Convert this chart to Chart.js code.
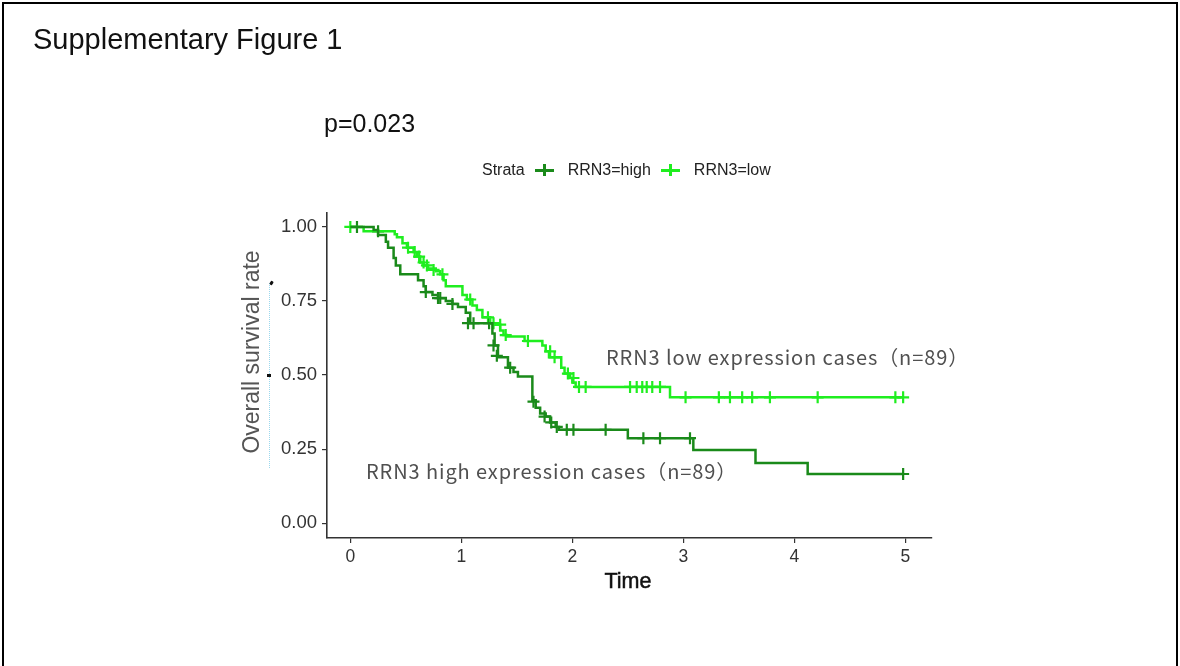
<!DOCTYPE html>
<html>
<head>
<meta charset="utf-8">
<script src="https://cdn.jsdelivr.net/npm/chart.js@4.4.1/dist/chart.umd.min.js"></script>
<style>
  html, body { margin: 0; padding: 0; background: #fff; }
  body { width: 1180px; height: 666px; position: relative; overflow: hidden; font-family: "Liberation Sans", Arial, sans-serif; }
  #frame { position: absolute; left: 2px; top: 2px; width: 1176px; height: 700px; border: 2px solid #000; box-sizing: border-box; }
  #chartBox { position: absolute; left: 0; top: 0; width: 1180px; height: 666px; }
  .txt { position: absolute; white-space: nowrap; }
  #title { left: 33px; top: 22px; font-size: 29px; line-height: 34px; color: #111; }
  #pval { left: 324px; top: 108px; font-size: 25px; line-height: 30px; color: #111; }
  #legend { left: 482px; top: 160px; font-size: 16px; line-height: 20px; color: #222; display: flex; align-items: center; }
  .key { position: relative; width: 19px; height: 14px; margin: 0 14px 0 10px; }
  .key .h { position: absolute; left: 0; top: 6px; width: 19px; height: 2.5px; }
  .key .v { position: absolute; left: 8.5px; top: 1px; width: 2.5px; height: 12px; }
  #ytitle { left: 251px; top: 352px; font-size: 23px; color: #555; transform: translate(-50%, -50%) rotate(-90deg); }
  #xtitle { left: 628px; top: 569px; font-size: 21.5px; color: #111; -webkit-text-stroke: 0.5px #111; transform: translateX(-50%); }
  .note { font-family: "Noto Sans CJK JP", "Noto Sans", sans-serif; font-size: 20px; letter-spacing: 0.9px; color: #505050; }
  #noteLow { left: 606px; top: 342px; }
  #noteHigh { left: 366px; top: 456px; }
  #dots { position: absolute; left: 269px; top: 283px; height: 185px; border-left: 1px dotted #9ad8ee; }
  #tick1 { position: absolute; left: 270px; top: 281px; width: 3px; height: 4px; background: #111; transform: rotate(30deg); border-radius: 1px; }
  #tick2 { position: absolute; left: 267px; top: 374px; width: 4px; height: 2.5px; background: #111; }
</style>
</head>
<body>
<div id="frame"></div>
<div id="chartBox"><canvas id="km"></canvas></div>
<div id="dots"></div>
<div id="tick1"></div>
<div id="tick2"></div>
<div class="txt" id="title">Supplementary Figure 1</div>
<div class="txt" id="pval">p=0.023</div>
<div class="txt" id="legend">
  <span>Strata</span>
  <span class="key"><span class="h" style="background:#1a8a1a"></span><span class="v" style="background:#1a8a1a"></span></span>
  <span>RRN3=high</span>
  <span class="key"><span class="h" style="background:#1fee1f"></span><span class="v" style="background:#1fee1f"></span></span>
  <span>RRN3=low</span>
</div>
<div class="txt" id="ytitle">Overall survival rate</div>
<div class="txt" id="xtitle">Time</div>
<div class="txt note" id="noteLow">RRN3 low expression cases（n=89）</div>
<div class="txt note" id="noteHigh">RRN3 high expression cases（n=89）</div>
<script>
// Kaplan-Meier steps
const highTimes = [0, 0.21, 0.25, 0.32, 0.34, 0.39, 0.41, 0.45, 0.61, 0.66, 0.68, 0.74, 0.79, 0.86, 0.92, 0.97, 1.04, 1.08, 1.28, 1.30, 1.33, 1.42, 1.47, 1.51, 1.64, 1.67, 1.71, 1.76, 1.80, 1.85, 1.88, 2.50, 3.09, 3.65, 4.12, 4.98];
const highSurv  = [1.0, 0.99, 0.973, 0.95, 0.93, 0.895, 0.87, 0.84, 0.82, 0.80, 0.78, 0.77, 0.76, 0.75, 0.74, 0.73, 0.71, 0.675, 0.64, 0.60, 0.56, 0.525, 0.51, 0.495, 0.415, 0.39, 0.37, 0.36, 0.34, 0.325, 0.315, 0.287, 0.247, 0.203, 0.166, 0.166];

const lowTimes = [0, 0.12, 0.40, 0.42, 0.47, 0.51, 0.57, 0.60, 0.63, 0.66, 0.70, 0.77, 0.81, 0.84, 0.86, 1.01, 1.05, 1.10, 1.14, 1.19, 1.26, 1.29, 1.35, 1.38, 1.41, 1.57, 1.73, 1.76, 1.79, 1.90, 1.93, 1.98, 2.00, 2.03, 2.88, 4.98];
const lowSurv  = [1.0, 0.985, 0.975, 0.965, 0.945, 0.93, 0.915, 0.90, 0.88, 0.87, 0.86, 0.85, 0.84, 0.82, 0.80, 0.77, 0.755, 0.735, 0.72, 0.695, 0.675, 0.67, 0.65, 0.635, 0.63, 0.615, 0.60, 0.58, 0.56, 0.525, 0.505, 0.49, 0.475, 0.46, 0.425, 0.425];

// censored observations (+)
const highCensTimes = [0.06, 0.25, 0.68, 0.79, 0.81, 0.92, 1.06, 1.11, 1.25, 1.29, 1.32, 1.44, 1.65, 1.75, 1.81, 1.86, 1.95, 2.01, 2.30, 2.64, 2.79, 3.06, 4.98];
const highCensSurv  = [1.0, 0.985, 0.78, 0.76, 0.76, 0.74, 0.675, 0.675, 0.675, 0.60, 0.565, 0.525, 0.41, 0.36, 0.34, 0.325, 0.315, 0.315, 0.315, 0.287, 0.287, 0.287, 0.166];

const lowCensTimes = [0.0, 0.52, 0.58, 0.62, 0.66, 0.69, 0.75, 0.83, 1.08, 1.24, 1.29, 1.35, 1.40, 1.60, 1.80, 1.84, 1.96, 2.01, 2.06, 2.12, 2.52, 2.58, 2.63, 2.67, 2.72, 2.79, 3.02, 3.32, 3.42, 3.53, 3.62, 3.78, 4.21, 4.91, 4.98];
const lowCensSurv  = [1.0, 0.93, 0.915, 0.90, 0.88, 0.87, 0.855, 0.84, 0.755, 0.695, 0.675, 0.67, 0.635, 0.615, 0.58, 0.56, 0.505, 0.49, 0.46, 0.46, 0.46, 0.46, 0.46, 0.46, 0.46, 0.46, 0.425, 0.425, 0.425, 0.425, 0.425, 0.425, 0.425, 0.425, 0.425];

const xTicks = [0, 1, 2, 3, 4, 5];
const yTicks = [0, 0.25, 0.5, 0.75, 1];

const highColor = '#1a8a1a';
const lowColor = '#1fee1f';

const pts = (xs, ys) => xs.map((x, i) => ({ x, y: ys[i] }));

function stepLine(xs, ys, color) {
    return {
        type: 'line',
        data: pts(xs, ys),
        borderColor: color,
        borderWidth: 2.5,
        stepped: 'before',
        pointRadius: 0,
        fill: false
    };
}

function censors(xs, ys, color) {
    return {
        type: 'scatter',
        data: pts(xs, ys),
        pointStyle: 'cross',
        pointRadius: 6,
        borderColor: color,
        backgroundColor: color,
        pointBorderWidth: 2.2
    };
}

new Chart(document.getElementById('km'), {
    data: {
        datasets: [
            stepLine(highTimes, highSurv, highColor),
            stepLine(lowTimes, lowSurv, lowColor),
            censors(highCensTimes, highCensSurv, highColor),
            censors(lowCensTimes, lowCensSurv, lowColor)
        ]
    },
    options: {
        responsive: true,
        maintainAspectRatio: false,
        animation: false,
        layout: { padding: { left: 0, top: 213, right: 248, bottom: 0 } },
        plugins: { legend: { display: false }, tooltip: { enabled: false } },
        scales: {
            x: {
                type: 'linear',
                min: -0.21,
                max: 5.24,
                afterFit: s => { s.height = 128; },
                afterBuildTicks: s => { s.ticks = xTicks.map(v => ({ value: v })); },
                grid: { drawOnChartArea: false, drawTicks: true, tickLength: 5, color: '#333', lineWidth: 1.2 },
                border: { display: true, color: '#333', width: 1.6 },
                ticks: { padding: 4, color: '#333', font: { family: 'Liberation Sans', size: 17.5 } }
            },
            y: {
                type: 'linear',
                min: -0.05,
                max: 1.047,
                afterFit: s => { s.width = 327; },
                afterBuildTicks: s => { s.ticks = yTicks.map(v => ({ value: v })); },
                grid: { drawOnChartArea: false, drawTicks: true, tickLength: 5, color: '#333', lineWidth: 1.2 },
                border: { display: true, color: '#333', width: 1.6 },
                ticks: {
                    padding: 5,
                    color: '#333',
                    font: { family: 'Liberation Sans', size: 18.5 },
                    callback: v => v.toFixed(2)
                }
            }
        }
    }
});
</script>
</body>
</html>
